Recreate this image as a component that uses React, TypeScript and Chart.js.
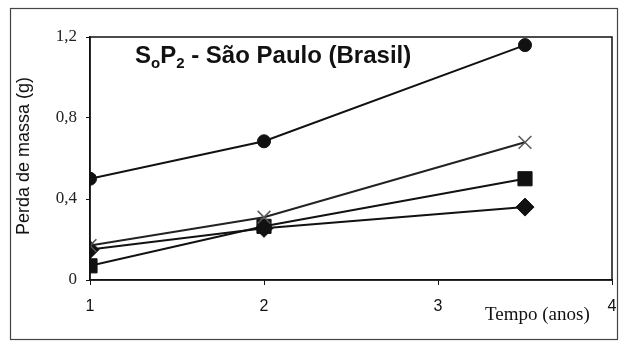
import React, { useEffect, useRef } from "react";
import { Chart, registerables } from "chart.js";

Chart.register(...registerables);

const years = [1, 2, 3.5];
const seriesCircle = [0.5, 0.685, 1.16];
const seriesCross = [0.17, 0.31, 0.68];
const seriesSquare = [0.07, 0.265, 0.5];
const seriesDiamond = [0.15, 0.255, 0.36];
const yTicks = [0, 0.4, 0.8, 1.2];
const xTicks = [1, 2, 3, 4];
const yTitle = "Perda de massa (g)";
const xTitle = "Tempo (anos)";

const toPts = (vals: number[]) => vals.map((v, i) => ({ x: years[i], y: v }));

const decorPlugin = {
  id: "decor",
  beforeDraw(chart: any) {
    const ctx = chart.ctx;
    ctx.save();
    ctx.fillStyle = "#ffffff";
    ctx.fillRect(0, 0, chart.width, chart.height);
    ctx.restore();
  },
  afterDraw(chart: any) {
    const ctx = chart.ctx;
    const a = chart.chartArea;
    ctx.save();
    ctx.strokeStyle = "#444";
    ctx.lineWidth = 1.2;
    ctx.strokeRect(10.5, 8.5, 607, 331);
    ctx.strokeStyle = "#111";
    ctx.lineWidth = 1.5;
    ctx.strokeRect(a.left, a.top, a.right - a.left, a.bottom - a.top);

    ctx.fillStyle = "#111";
    ctx.textBaseline = "alphabetic";
    ctx.textAlign = "left";
    const big = "bold 24px 'Liberation Sans', Arial, sans-serif";
    const small = "bold 15px 'Liberation Sans', Arial, sans-serif";
    let x = 135;
    const base = 63;
    const parts: [string, boolean][] = [
      ["S", false],
      ["o", true],
      ["P", false],
      ["2", true],
      [" - São Paulo (Brasil)", false],
    ];
    for (const [t, sub] of parts) {
      ctx.font = sub ? small : big;
      ctx.fillText(t, x, sub ? base + 5 : base);
      x += ctx.measureText(t).width;
    }

    ctx.save();
    ctx.translate(24, 156);
    ctx.rotate(-Math.PI / 2);
    ctx.textAlign = "center";
    ctx.textBaseline = "middle";
    ctx.font = "18px 'Liberation Sans', Arial, sans-serif";
    ctx.fillText(yTitle, 0, 0);
    ctx.restore();

    ctx.textAlign = "left";
    ctx.textBaseline = "middle";
    ctx.font = "19px 'Liberation Serif', 'Times New Roman', serif";
    ctx.fillText(xTitle, 485, 315);
    ctx.restore();
  },
};

export default function App() {
  const ref = useRef<HTMLCanvasElement | null>(null);

  useEffect(() => {
    document.body.style.margin = "0";
    const canvas = ref.current;
    if (!canvas) return;
    const common = {
      borderColor: "#111",
      borderWidth: 2,
      showLine: true,
      tension: 0,
      pointBackgroundColor: "#111",
      pointBorderColor: "#111",
    };
    const chart = new Chart(canvas, {
      type: "scatter",
      data: {
        datasets: [
          { ...common, label: "circle", data: toPts(seriesCircle), pointStyle: "circle", pointRadius: 6.5, pointBorderWidth: 1 },
          { ...common, label: "cross", data: toPts(seriesCross), pointStyle: "crossRot", pointRadius: 9, pointBorderWidth: 1.5, pointBorderColor: "#555", borderColor: "#222" },
          { ...common, label: "square", data: toPts(seriesSquare), pointStyle: "rect", pointRadius: 10, pointBorderWidth: 1 },
          { ...common, label: "diamond", data: toPts(seriesDiamond), pointStyle: "rectRot", pointRadius: 9, pointBorderWidth: 1 },
        ],
      } as any,
      options: {
        animation: false,
        responsive: false,
        maintainAspectRatio: false,
        layout: { padding: { left: 0, top: 37, right: 8, bottom: 0 }, autoPadding: false } as any,
        plugins: {
          legend: { display: false },
          tooltip: { enabled: false },
        },
        scales: {
          x: {
            type: "linear",
            min: 1,
            max: 4,
            afterFit: (s: any) => { s.height = 68; s.paddingLeft = 0; s.paddingRight = 0; },
            afterBuildTicks: (s: any) => { s.ticks = xTicks.map((v) => ({ value: v })); },
            border: { display: true, color: "#111", width: 1.5 },
            grid: { drawOnChartArea: false, drawTicks: true, tickLength: 5, color: "#111", lineWidth: 1 },
            ticks: {
              color: "#111",
              padding: 12,
              maxRotation: 0,
              autoSkip: false,
              font: { family: "'Liberation Sans', Arial, sans-serif", size: 16 },
              callback: (v: any) => String(v),
            },
          },
          y: {
            type: "linear",
            min: 0,
            max: 1.2,
            afterFit: (s: any) => { s.width = 90; s.paddingTop = 0; s.paddingBottom = 0; },
            afterBuildTicks: (s: any) => { s.ticks = yTicks.map((v) => ({ value: v })); },
            border: { display: true, color: "#111", width: 1.5 },
            grid: { drawOnChartArea: false, drawTicks: true, tickLength: 4, color: "#111", lineWidth: 1 },
            ticks: {
              color: "#222",
              padding: 9,
              autoSkip: false,
              font: { family: "'Liberation Serif', 'Times New Roman', serif", size: 17 },
              callback: (v: any) => String(Math.round(Number(v) * 10) / 10).replace(".", ","),
            },
          },
        },
      } as any,
      plugins: [decorPlugin],
    });
    return () => chart.destroy();
  }, []);

  return (
    <div style={{ width: 620, height: 348 }}>
      <canvas ref={ref} width={620} height={348} style={{ width: 620, height: 348, display: "block" }} />
    </div>
  );
}
